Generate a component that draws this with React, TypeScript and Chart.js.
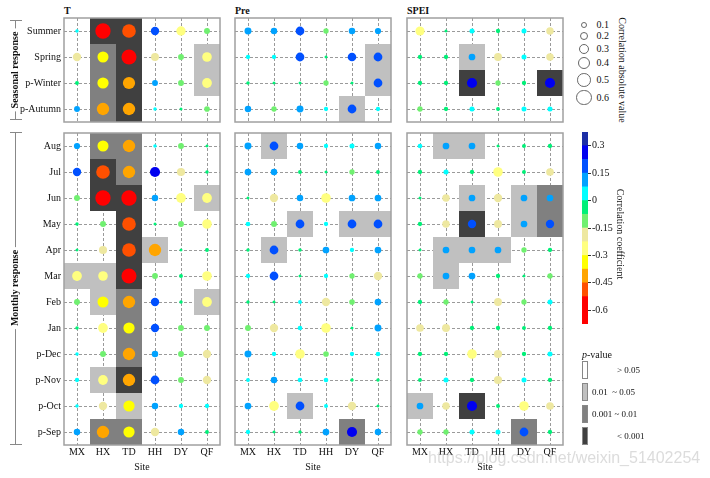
import React, { useEffect, useRef } from 'react';
import { Chart, registerables } from 'chart.js';
Chart.register(...registerables);

const SERIF = '"Liberation Serif", "Times New Roman", serif';

const SITES = ['MX', 'HX', 'TD', 'HH', 'DY', 'QF'];
const SEASONS = ['Summer', 'Spring', 'p-Winter', 'p-Autumn'];
const MONTHS = ['Aug', 'Jul', 'Jun', 'May', 'Apr', 'Mar', 'Feb', 'Jan', 'p-Dec', 'p-Nov', 'p-Oct', 'p-Sep'];

// correlation coefficients, rows x sites (MX HX TD HH DY QF)
const T_SEASON = [
  [0.03, -0.62, -0.5, 0.2, -0.25, -0.1],
  [-0.2, -0.34, -0.6, -0.18, -0.1, -0.26],
  [-0.04, -0.35, -0.41, 0.1, -0.1, -0.27],
  [0.1, -0.42, -0.42, 0.03, -0.02, -0.09],
];
// p-value class: 0 >0.05, 1 0.01~0.05, 2 0.001~0.01, 3 <0.001
const T_SEASON_P = [
  [0, 3, 3, 0, 0, 0],
  [0, 2, 3, 0, 0, 1],
  [0, 2, 3, 0, 0, 1],
  [0, 2, 3, 0, 0, 0],
];
const PRE_SEASON = [
  [0.14, 0.12, 0.22, -0.08, 0.12, 0.11],
  [0.05, 0.05, 0.22, -0.02, 0.21, 0.22],
  [-0.03, -0.02, -0.02, -0.08, -0.02, 0.22],
  [0.12, -0.08, 0.14, 0.05, 0.22, 0.05],
];
const PRE_SEASON_P = [
  [0, 0, 0, 0, 0, 0],
  [0, 0, 0, 0, 0, 1],
  [0, 0, 0, 0, 0, 1],
  [0, 0, 0, 0, 1, 0],
];
const SPEI_SEASON = [
  [-0.24, -0.02, 0.07, -0.05, 0.07, -0.16],
  [-0.05, -0.05, 0.13, -0.18, 0.07, -0.16],
  [-0.05, -0.05, 0.29, -0.08, -0.05, 0.29],
  [-0.08, -0.05, 0.07, -0.04, 0.07, 0.07],
];
const SPEI_SEASON_P = [
  [0, 0, 0, 0, 0, 0],
  [0, 0, 1, 0, 0, 0],
  [0, 0, 3, 0, 0, 3],
  [0, 0, 0, 0, 0, 0],
];

const T_MONTH = [
  [0.11, -0.34, -0.42, 0.03, -0.1, -0.02],
  [0.2, -0.5, -0.42, 0.29, -0.19, -0.03],
  [-0.1, -0.62, -0.62, 0.12, -0.27, -0.27],
  [-0.03, -0.1, -0.5, -0.02, -0.1, -0.26],
  [-0.02, -0.19, -0.5, -0.42, -0.02, -0.04],
  [-0.27, -0.26, -0.6, -0.1, -0.04, -0.26],
  [-0.1, -0.34, -0.42, 0.2, -0.03, -0.27],
  [-0.03, -0.27, -0.35, 0.2, -0.1, -0.1],
  [0.03, -0.1, -0.42, 0.12, -0.1, -0.2],
  [0.05, -0.27, -0.42, 0.22, -0.1, -0.2],
  [0.03, -0.2, -0.35, 0.12, 0.05, 0.05],
  [0.12, -0.42, -0.35, -0.2, 0.12, -0.04],
];
const T_MONTH_P = [
  [0, 2, 2, 0, 0, 0],
  [0, 3, 2, 0, 0, 0],
  [0, 3, 3, 0, 0, 1],
  [0, 0, 3, 0, 0, 0],
  [0, 0, 3, 1, 0, 0],
  [1, 1, 3, 0, 0, 0],
  [0, 1, 2, 0, 0, 1],
  [0, 0, 2, 0, 0, 0],
  [0, 0, 2, 0, 0, 0],
  [0, 1, 3, 0, 0, 0],
  [0, 0, 1, 0, 0, 0],
  [0, 2, 2, 0, 0, 0],
];
const PRE_MONTH = [
  [0.14, 0.22, 0.12, 0.05, 0.07, 0.12],
  [0.13, 0.12, -0.04, -0.02, -0.08, -0.04],
  [-0.02, -0.2, 0.12, -0.26, 0.13, 0.13],
  [0.06, -0.1, 0.22, 0.05, 0.22, 0.22],
  [-0.03, 0.22, -0.03, 0.13, 0.05, 0.13],
  [0.05, 0.22, -0.02, 0.05, -0.08, -0.2],
  [-0.03, -0.02, 0.04, -0.2, -0.09, 0.13],
  [-0.1, -0.2, 0.06, -0.26, -0.02, 0.14],
  [0.14, 0.05, -0.26, -0.09, 0.05, 0.06],
  [0.04, 0.12, 0.06, 0.06, -0.03, -0.03],
  [0.13, -0.27, 0.22, 0.04, -0.2, -0.02],
  [0.05, -0.02, -0.03, 0.13, 0.29, 0.12],
];
const PRE_MONTH_P = [
  [0, 1, 0, 0, 0, 0],
  [0, 0, 0, 0, 0, 0],
  [0, 0, 0, 0, 0, 0],
  [0, 0, 1, 0, 1, 1],
  [0, 1, 0, 0, 0, 0],
  [0, 0, 0, 0, 0, 0],
  [0, 0, 0, 0, 0, 0],
  [0, 0, 0, 0, 0, 0],
  [0, 0, 0, 0, 0, 0],
  [0, 0, 0, 0, 0, 0],
  [0, 0, 1, 0, 0, 0],
  [0, 0, 0, 0, 2, 0],
];
const SPEI_MONTH = [
  [0.06, 0.13, 0.13, -0.02, -0.04, -0.05],
  [-0.05, 0.07, -0.05, -0.26, -0.04, -0.17],
  [-0.02, -0.16, 0.13, -0.2, 0.13, 0.13],
  [-0.05, -0.16, 0.2, -0.18, 0.13, 0.2],
  [-0.02, 0.13, 0.13, 0.13, -0.08, -0.05],
  [-0.08, 0.13, 0.13, -0.05, -0.02, -0.08],
  [-0.05, -0.08, -0.02, -0.18, -0.08, 0.07],
  [-0.17, -0.18, -0.05, -0.05, -0.04, -0.05],
  [-0.05, -0.05, -0.26, -0.19, -0.05, 0.07],
  [-0.04, 0.07, -0.05, -0.19, 0.07, -0.05],
  [0.13, -0.16, 0.29, -0.04, -0.26, -0.17],
  [-0.08, -0.08, 0.07, 0.07, 0.22, -0.05],
];
const SPEI_MONTH_P = [
  [0, 1, 1, 0, 0, 0],
  [0, 0, 0, 0, 0, 0],
  [0, 0, 1, 0, 1, 2],
  [0, 0, 3, 0, 1, 2],
  [0, 1, 1, 1, 0, 0],
  [0, 1, 0, 0, 0, 0],
  [0, 0, 0, 0, 0, 0],
  [0, 0, 0, 0, 0, 0],
  [0, 0, 0, 0, 0, 0],
  [0, 0, 0, 0, 0, 0],
  [1, 0, 3, 0, 0, 0],
  [0, 0, 0, 0, 2, 0],
];

const COLOR_TICKS = [0.3, 0.15, 0, -0.15, -0.3, -0.45, -0.6];
const COLOR_MIN = -0.675;
const COLOR_STEP = 0.075;
const COLOR_BINS = [
  '#ff0000', '#ff0000', '#ff5000', '#ffa500', '#ffff00', '#ffff80', '#eee8a0',
  '#70f070', '#00f078', '#00ffff', '#00a2ff', '#0050ff', '#0000f0', '#1c2ea6',
];
const SIZE_KEYS = [0.1, 0.2, 0.3, 0.4, 0.5, 0.6];
const P_FILLS = ['#ffffff', '#c0c0c0', '#808080', '#404040'];
const P_TEXT = ['> 0.05', '0.01  ~ 0.05', '0.001 ~ 0.01', '< 0.001'];

function colorFor(v: number) {
  let b = Math.floor((v - COLOR_MIN) / COLOR_STEP);
  if (b < 0) b = 0;
  if (b > COLOR_BINS.length - 1) b = COLOR_BINS.length - 1;
  return COLOR_BINS[b];
}
function radiusFor(v: number) {
  return 0.6 + 9.4 * Math.pow(Math.abs(v), 0.6);
}

const CELL = 26;
const PW = CELL * SITES.length;

type PanelProps = {
  left: number; top: number; rows: string[];
  values: number[][]; pvals: number[][]; showY: boolean; showX: boolean;
};

function zeroPad(s: any) {
  s.paddingTop = 0; s.paddingBottom = 0; s.paddingLeft = 0; s.paddingRight = 0;
}

function Panel({ left, top, rows, values, pvals, showY, showX }: PanelProps) {
  const ref = useRef<HTMLCanvasElement>(null);
  const yW = showY ? 64 : 2;
  const xH = showX ? 20 : 2;
  const width = yW + PW + 2;
  const height = 2 + rows.length * CELL + xH;
  useEffect(() => {
    const pts: any[] = [];
    rows.forEach((r, i) =>
      SITES.forEach((s, j) => pts.push({ x: s, y: r, v: values[i][j], p: pvals[i][j], i, j }))
    );
    const plugin = {
      id: 'pcells',
      beforeDatasetsDraw(chart: any) {
        const { ctx, scales } = chart;
        const xs = scales.x, ys = scales.y;
        const cw = Math.abs(xs.getPixelForValue(1) - xs.getPixelForValue(0));
        const ch = Math.abs(ys.getPixelForValue(1) - ys.getPixelForValue(0));
        ctx.save();
        pts.forEach((d) => {
          if (!d.p) return;
          const cx = xs.getPixelForValue(d.j);
          const cy = ys.getPixelForValue(d.i);
          ctx.fillStyle = P_FILLS[d.p];
          ctx.fillRect(cx - cw / 2, cy - ch / 2, cw, ch);
        });
        ctx.restore();
      },
      afterDatasetsDraw(chart: any) {
        const { ctx, chartArea } = chart;
        ctx.save();
        ctx.strokeStyle = '#a0a0a0';
        ctx.lineWidth = 1.5;
        ctx.strokeRect(chartArea.left, chartArea.top, chartArea.right - chartArea.left, chartArea.bottom - chartArea.top);
        ctx.restore();
      },
    };
    const chart = new Chart(ref.current as HTMLCanvasElement, {
      type: 'scatter',
      data: {
        datasets: [{
          data: pts,
          pointRadius: (c: any) => (c.raw ? radiusFor(c.raw.v) : 3),
          pointHoverRadius: (c: any) => (c.raw ? radiusFor(c.raw.v) : 3),
          backgroundColor: (c: any) => (c.raw ? colorFor(c.raw.v) : '#000'),
          borderWidth: 0,
        } as any],
      },
      options: {
        animation: false,
        responsive: false,
        maintainAspectRatio: false,
        events: [],
        layout: { autoPadding: false, padding: { top: 2, right: 2, left: 0, bottom: 0 } },
        plugins: { legend: { display: false }, tooltip: { enabled: false } },
        scales: {
          x: {
            type: 'category',
            labels: SITES,
            offset: true,
            position: 'bottom',
            grid: { offset: false, color: '#9a9a9a', lineWidth: 1, drawTicks: false },
            border: { display: false, dash: [3, 2] },
            ticks: { display: showX, padding: 1, color: '#111', autoSkip: false, maxRotation: 0, font: { family: SERIF, size: 10 } },
            afterFit: (s: any) => { s.height = xH; zeroPad(s); },
          },
          y: {
            type: 'category',
            labels: rows,
            offset: true,
            position: 'left',
            grid: { offset: false, color: '#9a9a9a', lineWidth: 1, drawTicks: false },
            border: { display: false, dash: [3, 2] },
            ticks: { display: showY, padding: 3, color: '#111', autoSkip: false, font: { family: SERIF, size: 10 } },
            afterFit: (s: any) => { s.width = yW; zeroPad(s); },
          },
        } as any,
      },
      plugins: [plugin as any],
    });
    return () => chart.destroy();
  }, []);
  return (
    <canvas
      ref={ref}
      width={width}
      height={height}
      style={{ position: 'absolute', left: left - yW, top: top - 2, width, height }}
    />
  );
}

function ColorBar() {
  const ref = useRef<HTMLCanvasElement>(null);
  useEffect(() => {
    const datasets = COLOR_BINS.map((c, i) => ({
      data: [[COLOR_MIN + i * COLOR_STEP, COLOR_MIN + (i + 1) * COLOR_STEP]],
      backgroundColor: c,
      borderWidth: 0,
      barPercentage: 1,
      categoryPercentage: 1,
      grouped: false,
    }));
    const chart = new Chart(ref.current as HTMLCanvasElement, {
      type: 'bar',
      data: { labels: ['r'], datasets: datasets as any },
      options: {
        animation: false,
        responsive: false,
        maintainAspectRatio: false,
        events: [],
        layout: { autoPadding: false, padding: { top: 6, bottom: 6, left: 0, right: 0 } },
        plugins: { legend: { display: false }, tooltip: { enabled: false } },
        scales: {
          x: { display: false },
          y: {
            position: 'right',
            min: COLOR_MIN,
            max: COLOR_MIN + COLOR_BINS.length * COLOR_STEP,
            afterBuildTicks: (s: any) => { s.ticks = COLOR_TICKS.map((v) => ({ value: v })); },
            grid: { drawOnChartArea: false, drawTicks: true, tickLength: 3, tickColor: '#333', tickWidth: 1 },
            border: { display: false },
            ticks: { padding: 1, color: '#111', font: { family: SERIF, size: 10 }, callback: (v: any) => String(Math.round(Number(v) * 100) / 100) },
            afterFit: (s: any) => { s.width = 34; zeroPad(s); },
          },
        } as any,
      },
    });
    return () => chart.destroy();
  }, []);
  return <canvas ref={ref} width={40} height={204} style={{ position: 'absolute', left: 582, top: 126, width: 40, height: 204 }} />;
}

const txt = (extra: any): any => ({
  position: 'absolute', fontFamily: SERIF, fontSize: 10, lineHeight: '10px', color: '#111', whiteSpace: 'pre', ...extra,
});

export default function App() {
  const cols = [64, 235, 407];
  const titles = ['T', 'Pre', 'SPEI'];
  const seasonSets = [[T_SEASON, T_SEASON_P], [PRE_SEASON, PRE_SEASON_P], [SPEI_SEASON, SPEI_SEASON_P]];
  const monthSets = [[T_MONTH, T_MONTH_P], [PRE_MONTH, PRE_MONTH_P], [SPEI_MONTH, SPEI_MONTH_P]];
  const keyR = SIZE_KEYS.map(radiusFor);
  let yy = 25;
  const keyY = keyR.map((r, i) => { if (i > 0) yy += keyR[i - 1] + r + 3.6; return yy; });
  const brackets = [
    { top: 20, bottom: 119, label: 'Seasonal response' },
    { top: 132, bottom: 444, label: 'Monthly response' },
  ];
  const pTops = [361, 383, 405, 427];
  const pLeft = [617, 592, 592, 617];
  return (
    <div style={{ position: 'fixed', left: 0, top: 0, width: 710, height: 478, background: '#fff', overflow: 'hidden' }}>
      {cols.map((x, k) => (
        <React.Fragment key={k}>
          <div style={txt({ left: x, top: 6, fontWeight: 'bold' })}>{titles[k]}</div>
          <Panel left={x} top={18} rows={SEASONS} values={seasonSets[k][0]} pvals={seasonSets[k][1]} showY={k === 0} showX={false} />
          <Panel left={x} top={133} rows={MONTHS} values={monthSets[k][0]} pvals={monthSets[k][1]} showY={k === 0} showX={true} />
          <div style={txt({ left: x + PW / 2 - 30, width: 60, textAlign: 'center', top: 462 })}>Site</div>
        </React.Fragment>
      ))}
      {brackets.map((b, i) => (
        <React.Fragment key={i}>
          <div style={{ position: 'absolute', left: 15, top: b.top, width: 1, height: b.bottom - b.top, background: '#888' }} />
          <div style={{ position: 'absolute', left: 10, top: b.top, width: 12, height: 1, background: '#888' }} />
          <div style={{ position: 'absolute', left: 10, top: b.bottom, width: 12, height: 1, background: '#888' }} />
          <div style={txt({ left: 15, top: (b.top + b.bottom) / 2, fontWeight: 'bold', background: '#fff', padding: '0 3px', transform: 'translate(-50%, -50%) rotate(-90deg)' })}>{b.label}</div>
        </React.Fragment>
      ))}
      {SIZE_KEYS.map((v, i) => (
        <React.Fragment key={i}>
          <div style={{ position: 'absolute', left: 584 - keyR[i], top: keyY[i] - keyR[i], width: 2 * keyR[i], height: 2 * keyR[i], border: '1px solid #666', borderRadius: '50%', boxSizing: 'border-box' }} />
          <div style={txt({ left: 596.5, top: keyY[i] - 5 })}>{v}</div>
        </React.Fragment>
      ))}
      <div style={txt({ left: 622, top: 70, transform: 'translate(-50%, -50%) rotate(90deg)' })}>Correlation absolute value</div>
      <ColorBar />
      <div style={txt({ left: 620, top: 234, transform: 'translate(-50%, -50%) rotate(90deg)' })}>Correlation coefficient</div>
      <div style={txt({ left: 582, top: 350 })}><i>p</i>-value</div>
      {P_TEXT.map((t, i) => (
        <React.Fragment key={i}>
          <div style={{ position: 'absolute', left: 582, top: pTops[i], width: 6, height: 18, background: P_FILLS[i], border: '1px solid #888', boxSizing: 'border-box' }} />
          <div style={txt({ left: pLeft[i], top: pTops[i] + 5, fontSize: 9, lineHeight: '9px' })}>{t}</div>
        </React.Fragment>
      ))}
      <div style={{ position: 'absolute', left: 428, top: 450, fontFamily: '"Liberation Sans", Arial, sans-serif', fontSize: 16, lineHeight: '16px', color: 'rgba(185,185,185,0.5)', whiteSpace: 'nowrap' }}>https://blog.csdn.net/weixin_51402254</div>
    </div>
  );
}
